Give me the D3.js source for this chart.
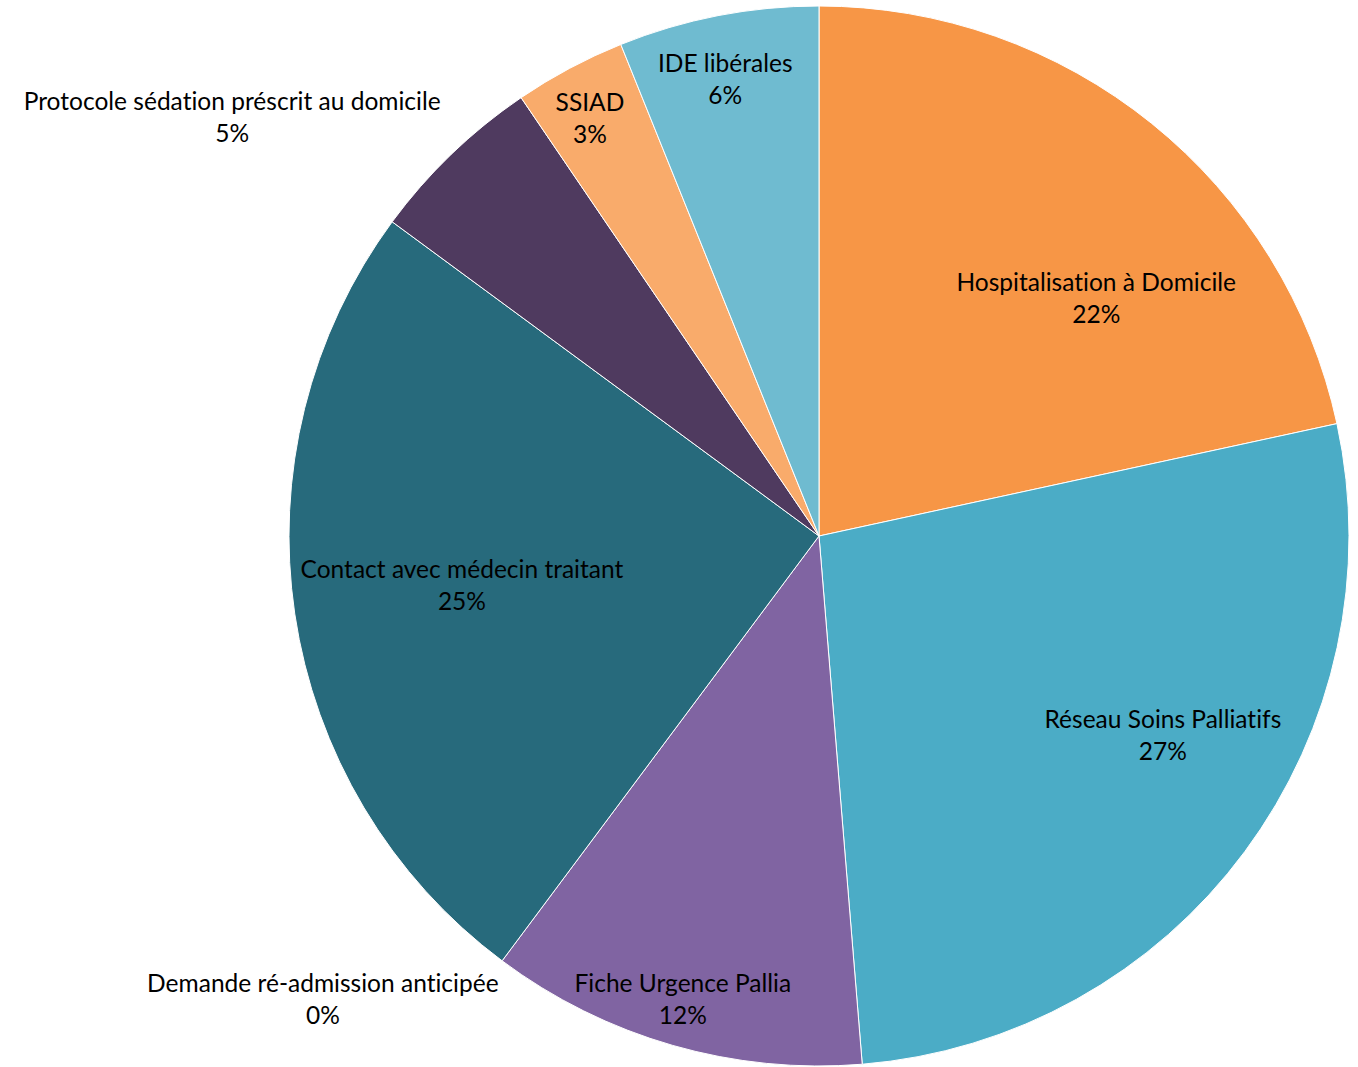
<!DOCTYPE html>
<html><head><meta charset="utf-8">
<script src="https://cdn.jsdelivr.net/npm/d3@7"></script>
<style>body{margin:0;background:#fff}svg{display:block}text{font-variant-ligatures:none;font-feature-settings:"liga" 0,"clig" 0,"dlig" 0;letter-spacing:0.01px}</style>
</head><body>
<svg id="chart" width="1358" height="1067"></svg>
<script>
const categories = ["Hospitalisation à Domicile","Réseau Soins Palliatifs","Fiche Urgence Pallia","Demande ré-admission anticipée","Contact avec médecin traitant","Protocole sédation préscrit au domicile","SSIAD","IDE libérales"];
const values = [21.6, 27.1, 11.5, 0, 24.9, 5.4, 3.4, 6.1];
const colors = ["#F79646","#4BACC6","#8064A2","#C0504D","#276A7C","#4F3A5F","#F9AB6B","#6FBBD0"];
// label layout: radius factor and angle (degrees clockwise from top)
const labelLayout = [[0.69,49.3],[0.75,120.1],[0.91,196.4],[1.28,227],[0.68,262.2],[1.36,305.5],[0.9,331.3],[0.88,348.4]];

const svg = d3.select("#chart");
const cx = 819, cy = 536, R = 530;
const g = svg.append("g").attr("transform",`translate(${cx},${cy})`);
const total = d3.sum(values);
const pie = d3.pie().sort(null).value(d=>d.v);
const data = categories.map((c,i)=>({c, v:values[i], i}));
const arcs = pie(data);
const arc = d3.arc().innerRadius(0).outerRadius(R);
g.selectAll("path").data(arcs).join("path")
  .attr("d",arc).attr("fill",d=>colors[d.data.i])
  .attr("stroke","#fff").attr("stroke-width",d=>d.data.v>0?1:0);

const fmt = v => Math.round(v/total*100)+"%";
const lbl = g.selectAll("text").data(arcs).join("text")
  .attr("text-anchor","middle")
  .attr("font-family","Lato, 'Open Sans', sans-serif")
  .attr("font-size",24.5).attr("fill","#000")
  .attr("transform",d=>{const [rf,a]=labelLayout[d.data.i];const t=a*Math.PI/180;return `translate(${R*rf*Math.sin(t)},${-R*rf*Math.cos(t)})`;});
lbl.append("tspan").attr("x",0).attr("y",-7).text(d=>d.data.c);
lbl.append("tspan").attr("x",0).attr("y",25).text(d=>fmt(d.data.v));
</script>
</body></html>
